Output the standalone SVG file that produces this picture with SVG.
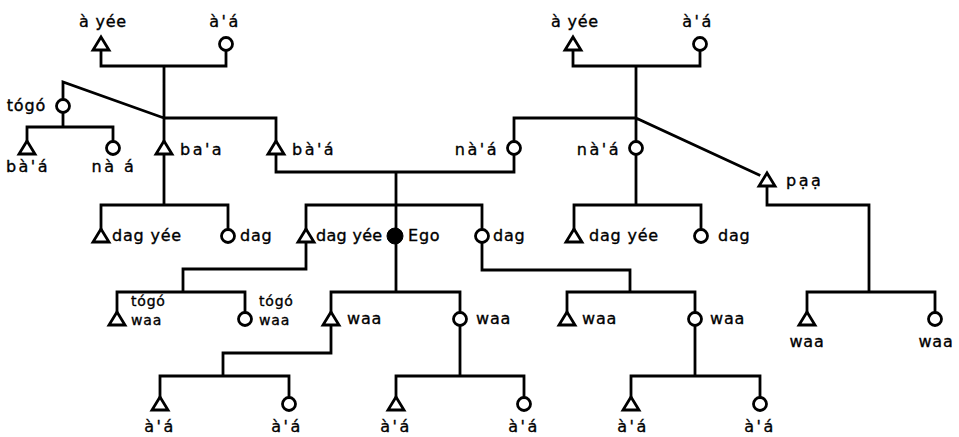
<svg xmlns="http://www.w3.org/2000/svg" xmlns:xlink="http://www.w3.org/1999/xlink" width="959" height="437" viewBox="0 0 959 437">
<style>
.ln{fill:none;stroke:#000;stroke-width:2.8;stroke-linejoin:miter;stroke-linecap:square}
.m{fill:#fff;stroke:#000;stroke-width:2.8;stroke-linejoin:miter}
.f{fill:#000;stroke:#000;stroke-width:1}
text{font-family:"DejaVu Sans","Liberation Sans",sans-serif;font-size:16px;letter-spacing:0.8px;fill:#000;stroke:#000;stroke-width:0.35}
.s{letter-spacing:2.5px}
.c{text-anchor:middle}
.e{text-anchor:end}
.sm{font-size:14px}
.n{letter-spacing:0.3px}
</style>
<defs>
<path id="tri" d="M0,-7 L8,6 L-8,6 Z"/>
<circle id="cir" r="6.5"/>
</defs>
<rect width="959" height="437" fill="#fff"/>
<g id="connectors" class="ln">
<path d="M101,51 V66 H226 V50.5 M164,66 V141 M164,118 H276 V141 M164,118 L63,82 V99.5"/>
<path d="M63,112.5 V127 M27,141 V127 H113 V141.5"/>
<path d="M164,154 V205 M101,229 V205 H228 V229.5"/>
<path d="M276,154 V172 H514 V154.5 M396,172 V228 M306,229 V205 H482 V229.5"/>
<path d="M573,51 V66 H700 V50.5 M636,66 V141.5 M514,141.5 V118 H636 M636,118 L759,175"/>
<path d="M636,154.5 V205 M574,229 V205 H701 V229.5"/>
<path d="M767,186 V205 H869 V292 M807,312 V292 H935 V312.5"/>
<path d="M396,244 V292 M331,312 V292 H460 V312.5"/>
<path d="M482,242.5 V270 H630 V292 M567,312 V292 H695 V312.5"/>
<path d="M306,242 V269 H183 V292 M117,312 V292 H245 V312.5"/>
<path d="M331,325 V353 H223 V376 M160,397 V376 H289 V397.5"/>
<path d="M460,325.5 V376 M396,397 V376 H524 V397.5"/>
<path d="M695,325.5 V376 M631,397 V376 H760 V397.5"/>
</g>
<g id="n-ayee-l"><use xlink:href="#tri" href="#tri" class="m" x="101" y="44"/><text class="c" x="103" y="27">à yée</text></g>
<g id="n-aa-l"><use xlink:href="#cir" href="#cir" class="m" x="226" y="44"/><text class="c s" x="225" y="27">à'á</text></g>
<g id="n-ayee-r"><use xlink:href="#tri" href="#tri" class="m" x="573" y="44"/><text class="c" x="575" y="27">à yée</text></g>
<g id="n-aa-r"><use xlink:href="#cir" href="#cir" class="m" x="700" y="44"/><text class="c s" x="698" y="27">à'á</text></g>
<g id="n-togo"><use xlink:href="#cir" href="#cir" class="m" x="63" y="106"/><text class="e" x="46" y="111">tógó</text></g>
<g id="n-baa1"><use xlink:href="#tri" href="#tri" class="m" x="27" y="148"/><text class="c s" x="28" y="172">bà'á</text></g>
<g id="n-naa1"><use xlink:href="#cir" href="#cir" class="m" x="113" y="148"/><text class="c s" x="114" y="172">nà á</text></g>
<g id="n-baa2"><use xlink:href="#tri" href="#tri" class="m" x="164" y="148"/><text class="s" x="180" y="155">ba'a</text></g>
<g id="n-baa3"><use xlink:href="#tri" href="#tri" class="m" x="276" y="148"/><text class="s" x="292" y="155">bà'á</text></g>
<g id="n-naa2"><use xlink:href="#cir" href="#cir" class="m" x="514" y="148"/><text class="e s" x="499" y="155">nà'á</text></g>
<g id="n-naa3"><use xlink:href="#cir" href="#cir" class="m" x="636" y="148"/><text class="e s" x="621" y="155">nà'á</text></g>
<g id="n-paa"><use xlink:href="#tri" href="#tri" class="m" x="767" y="180"/><text class="s" x="786" y="186">pạạ</text></g>
<g id="n-dagyee1"><use xlink:href="#tri" href="#tri" class="m" x="101" y="236"/><text x="112" y="241">dag yée</text></g>
<g id="n-dag1"><use xlink:href="#cir" href="#cir" class="m" x="228" y="236"/><text x="240" y="241">dag</text></g>
<g id="n-dagyee2"><use xlink:href="#tri" href="#tri" class="m" x="306" y="236"/><text class="n" x="316" y="241">dag yée</text></g>
<g id="n-ego"><circle class="f" cx="395" cy="236" r="8"/><text x="408" y="241">Ego</text></g>
<g id="n-dag2"><use xlink:href="#cir" href="#cir" class="m" x="482" y="236"/><text x="493" y="241">dag</text></g>
<g id="n-dagyee3"><use xlink:href="#tri" href="#tri" class="m" x="574" y="236"/><text x="589" y="241">dag yée</text></g>
<g id="n-dag3"><use xlink:href="#cir" href="#cir" class="m" x="701" y="236"/><text x="718" y="241">dag</text></g>
<g id="n-togowaa1"><use xlink:href="#tri" href="#tri" class="m" x="117" y="319"/><text class="sm" x="131" y="306">tógó</text><text class="sm" x="131" y="325">waa</text></g>
<g id="n-togowaa2"><use xlink:href="#cir" href="#cir" class="m" x="245" y="319"/><text class="sm" x="259" y="306">tógó</text><text class="sm" x="259" y="325">waa</text></g>
<g id="n-waa1"><use xlink:href="#tri" href="#tri" class="m" x="331" y="319"/><text x="347" y="324">waa</text></g>
<g id="n-waa2"><use xlink:href="#cir" href="#cir" class="m" x="460" y="319"/><text x="476" y="324">waa</text></g>
<g id="n-waa3"><use xlink:href="#tri" href="#tri" class="m" x="567" y="319"/><text x="582" y="324">waa</text></g>
<g id="n-waa4"><use xlink:href="#cir" href="#cir" class="m" x="695" y="319"/><text x="710" y="324">waa</text></g>
<g id="n-waa5"><use xlink:href="#tri" href="#tri" class="m" x="807" y="319"/><text class="c" x="807" y="347">waa</text></g>
<g id="n-waa6"><use xlink:href="#cir" href="#cir" class="m" x="935" y="319"/><text class="c" x="936" y="347">waa</text></g>
<g id="n-aa1"><use xlink:href="#tri" href="#tri" class="m" x="160" y="404"/><text class="c s" x="160" y="432">à'á</text></g>
<g id="n-aa2"><use xlink:href="#cir" href="#cir" class="m" x="289" y="404"/><text class="c s" x="287" y="432">à'á</text></g>
<g id="n-aa3"><use xlink:href="#tri" href="#tri" class="m" x="396" y="404"/><text class="c s" x="396" y="432">à'á</text></g>
<g id="n-aa4"><use xlink:href="#cir" href="#cir" class="m" x="524" y="404"/><text class="c s" x="524" y="432">à'á</text></g>
<g id="n-aa5"><use xlink:href="#tri" href="#tri" class="m" x="631" y="404"/><text class="c s" x="633" y="432">à'á</text></g>
<g id="n-aa6"><use xlink:href="#cir" href="#cir" class="m" x="760" y="404"/><text class="c s" x="760" y="432">à'á</text></g>
</svg>
